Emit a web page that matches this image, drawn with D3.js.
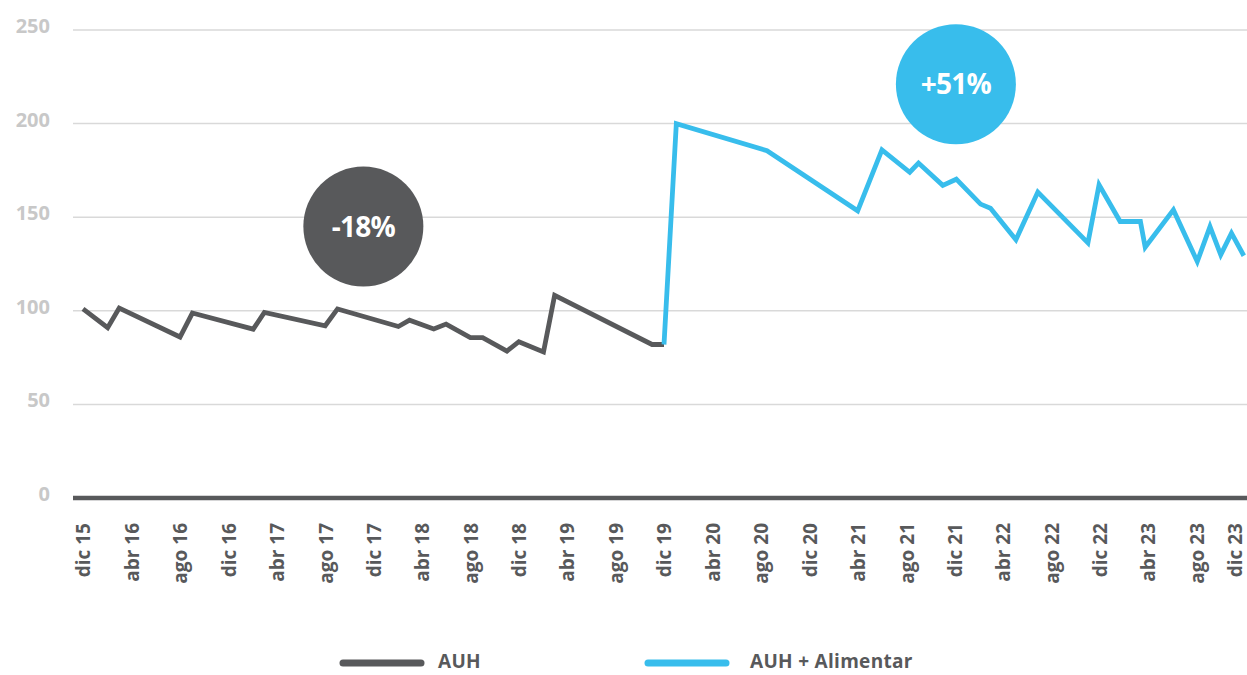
<!DOCTYPE html>
<html>
<head>
<meta charset="utf-8">
<script src="https://cdn.jsdelivr.net/npm/d3@7"></script>
<style>
  html, body { margin: 0; padding: 0; background: #ffffff; }
  svg { display: block; font-family: "Open Sans", "Noto Sans", sans-serif; }
</style>
</head>
<body>
<svg id="chart" width="1247" height="675"></svg>
<script>
// AUH series (index, dic 15 = 100)
const auhDates = ["2015-12-01","2016-02-01","2016-03-01","2016-08-01","2016-09-01",
  "2017-02-01","2017-03-01","2017-08-01","2017-09-01","2018-02-01","2018-03-01",
  "2018-05-01","2018-06-01","2018-08-01","2018-09-01","2018-11-01","2018-12-01",
  "2019-02-01","2019-03-01","2019-11-01","2019-12-01"];
const auhValues = [101, 91, 101.5, 86, 98.8, 90.2, 99.1, 92, 101, 91.6, 95,
  90.3, 92.9, 85.7, 85.7, 78.5, 83.5, 78, 108.3, 82, 82];

// AUH + Alimentar series
const alimDates = ["2019-12-01","2020-01-01","2020-08-16","2021-04-01","2021-06-01",
  "2021-08-10","2021-09-01","2021-11-01","2021-12-05","2022-02-04","2022-03-01",
  "2022-05-04","2022-06-28","2022-11-01","2022-11-29","2023-01-21","2023-03-13",
  "2023-03-25","2023-06-04","2023-08-03","2023-09-04","2023-10-01","2023-10-28",
  "2023-11-28"];
const alimValues = [82, 200, 185.5, 153.4, 186, 174, 178.9, 167, 170.3, 157, 154.8,
  138, 163.4, 136.3, 167.3, 147.7, 147.7, 134, 153.9, 126.3, 145, 129.9, 141.5, 129.4];

// Axis ticks
const xTickDates = ["2015-12-01","2016-04-01","2016-08-01","2016-12-01","2017-04-01",
  "2017-08-01","2017-12-01","2018-04-01","2018-08-01","2018-12-01","2019-04-01",
  "2019-08-01","2019-12-01","2020-04-01","2020-08-01","2020-12-01","2021-04-01",
  "2021-08-01","2021-12-01","2022-04-01","2022-08-01","2022-12-01","2023-04-01",
  "2023-08-01","2023-12-01"];
const xTickLabels = ["dic 15","abr 16","ago 16","dic 16","abr 17","ago 17","dic 17",
  "abr 18","ago 18","dic 18","abr 19","ago 19","dic 19","abr 20","ago 20","dic 20",
  "abr 21","ago 21","dic 21","abr 22","ago 22","dic 22","abr 23","ago 23","dic 23"];
const yTicks = [0, 50, 100, 150, 200, 250];

// Change badges
const badgeLabels = ["-18%", "+51%"];
const badgeDates = ["2017-11-05", "2021-12-04"];
const badgeValues = [145, 221];

const seriesNames = ["AUH", "AUH + Alimentar"];
const GRAY = "#58595b";
const BLUE = "#38bdec";

const parse = d3.timeParse("%Y-%m-%d");
const svg = d3.select("#chart");
const W = 1247;

const x = d3.scaleTime()
  .domain([parse("2015-12-01"), parse("2023-12-01")])
  .range([83, 1245]);
const y = d3.scaleLinear().domain([0, 250]).range([498, 30]);

const plotLeft = 73, plotRight = W;

// gridlines
svg.append("g").selectAll("line")
  .data(yTicks.filter(d => d > 0))
  .join("line")
  .attr("x1", plotLeft).attr("x2", plotRight)
  .attr("y1", d => y(d)).attr("y2", d => y(d))
  .attr("stroke", "#d9d9d9").attr("stroke-width", 1.5);

// y labels
const yAxis = d3.axisLeft(y).tickValues(yTicks).tickSize(0).tickPadding(0);
const gy = svg.append("g").attr("transform", "translate(50,-4)").call(yAxis);
gy.select(".domain").remove();
gy.selectAll("text")
  .attr("fill", "#c8c8c8")
  .style("font-size", "20px")
  .style("font-weight", "700")
  .style("font-family", "'Open Sans', sans-serif");

// baseline
svg.append("line")
  .attr("x1", plotLeft).attr("x2", plotRight)
  .attr("y1", y(0)).attr("y2", y(0))
  .attr("stroke", GRAY).attr("stroke-width", 4.5);

// x labels
const xAxis = d3.axisBottom(x)
  .tickValues(xTickDates.map(parse))
  .tickFormat((d, i) => xTickLabels[i])
  .tickSize(0);
const gx = svg.append("g").attr("transform", "translate(0,520)").call(xAxis);
gx.select(".domain").remove();
// keep the last rotated label inside the right edge
gx.selectAll(".tick").each(function () {
  const t = d3.select(this);
  const tx = +t.attr("transform").match(/translate\(([-\d.]+)/)[1];
  const over = tx + 12 - W;
  if (over > 0) t.attr("transform", `translate(${tx - over},0)`);
});
gx.selectAll("text")
  .attr("transform", "rotate(-90)")
  .attr("x", -3).attr("y", 0).attr("dy", "0.36em")
  .attr("text-anchor", "end")
  .attr("fill", GRAY)
  .style("font-size", "19px")
  .style("font-weight", "700")
  .style("font-family", "'Open Sans', sans-serif");

const line = d3.line()
  .x(d => x(d[0]))
  .y(d => y(d[1]));

const auh = auhDates.map((d, i) => [parse(d), auhValues[i]]);
const alim = alimDates.map((d, i) => [parse(d), alimValues[i]]);

svg.append("path").datum(auh)
  .attr("d", line).attr("fill", "none")
  .attr("stroke", GRAY).attr("stroke-width", 4.8)
  .attr("stroke-linejoin", "miter").attr("stroke-miterlimit", 3);

svg.append("path").datum(alim)
  .attr("d", line).attr("fill", "none")
  .attr("stroke", BLUE).attr("stroke-width", 4.8)
  .attr("stroke-linejoin", "miter").attr("stroke-miterlimit", 3);

// badges
const badgeColors = [GRAY, BLUE];
const badges = svg.append("g").selectAll("g")
  .data(badgeLabels)
  .join("g")
  .attr("transform", (d, i) => `translate(${x(parse(badgeDates[i]))},${y(badgeValues[i])})`);
badges.append("circle").attr("r", 60).attr("fill", (d, i) => badgeColors[i]);
badges.append("text")
  .text(d => d)
  .attr("text-anchor", "middle").attr("dy", "0.36em")
  .attr("fill", "#ffffff")
  .style("font-size", "28px").style("font-weight", "700")
  .style("letter-spacing", "-0.8px");

// legend
const legendX = [340, 645];
const legend = svg.append("g").selectAll("g")
  .data(seriesNames)
  .join("g")
  .attr("transform", (d, i) => `translate(${legendX[i]},663)`);
legend.append("line")
  .attr("x1", 3).attr("x2", 81).attr("y1", 0).attr("y2", 0)
  .attr("stroke", (d, i) => badgeColors[i])
  .attr("stroke-width", 7).attr("stroke-linecap", "round");
legend.append("text")
  .text(d => d)
  .attr("x", (d, i) => i === 0 ? 98 : 105).attr("y", -2).attr("dy", "0.36em")
  .attr("fill", GRAY)
  .style("font-size", "19px").style("font-weight", "700")
  .style("letter-spacing", "0.3px");
</script>
</body>
</html>
